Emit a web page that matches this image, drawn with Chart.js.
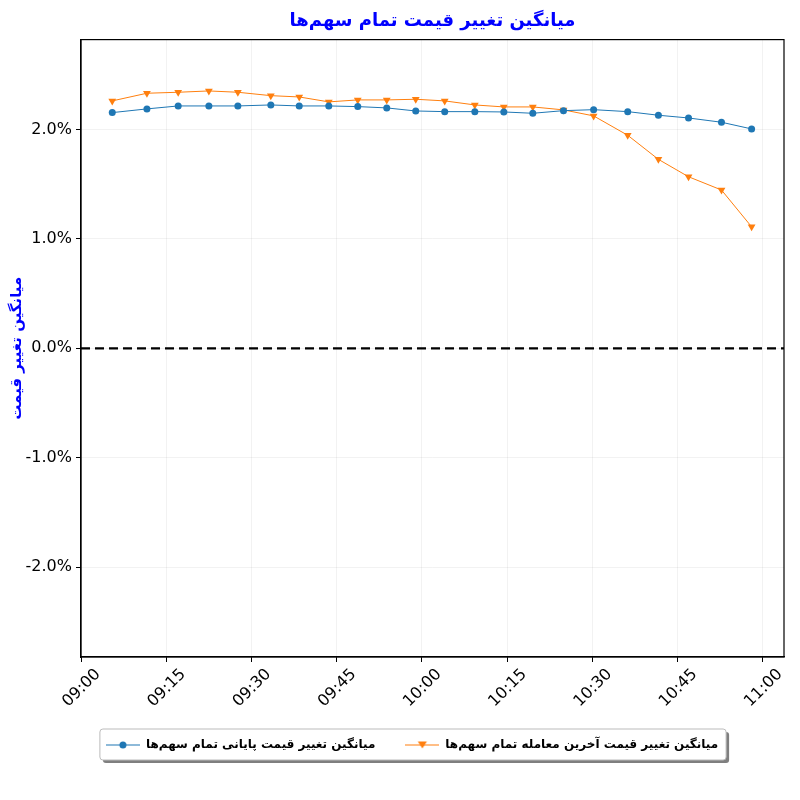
<!DOCTYPE html>
<html><head><meta charset="utf-8">
<script src="https://cdn.jsdelivr.net/npm/chart.js@4.4.1/dist/chart.umd.min.js"></script>
<style>html,body{margin:0;padding:0;background:#fff}#wrap{width:800px;height:800px}</style>
</head><body><div id="wrap"><canvas id="c" width="800" height="800"></canvas></div>
<script>
const titleText = 'میانگین تغییر قیمت تمام سهم‌ها';
const yAxisTitle = 'میانگین تغییر قیمت';
const seriesNames = ['میانگین تغییر قیمت پایانی تمام سهم‌ها', 'میانگین تغییر قیمت آخرین معامله تمام سهم‌ها'];
// minutes after 09:00
const minutes = [5.5, 11.6, 17.1, 22.5, 27.6, 33.4, 38.4, 43.6, 48.7, 53.8, 58.9, 64.0, 69.3, 74.4, 79.5, 84.9, 90.2, 96.2, 101.6, 106.9, 112.7, 118.0];
const closeChange = [2.153, 2.187, 2.214, 2.214, 2.214, 2.223, 2.214, 2.214, 2.208, 2.196, 2.168, 2.162, 2.162, 2.159, 2.147, 2.171, 2.180, 2.162, 2.129, 2.104, 2.065, 2.004];
const lastChange = [2.260, 2.330, 2.339, 2.351, 2.339, 2.308, 2.296, 2.251, 2.269, 2.269, 2.275, 2.260, 2.223, 2.205, 2.205, 2.178, 2.123, 1.946, 1.726, 1.567, 1.446, 1.110];
const xTickMinutes = [0, 15, 30, 45, 60, 75, 90, 105, 120];
const xTickLabels = ['09:00', '09:15', '09:30', '09:45', '10:00', '10:15', '10:30', '10:45', '11:00'];
const yTickValues = [-2, -1, 0, 1, 2];
const xMin = 0, xMax = 123.7;
const yLimit = 2.82;

const BLUE = '#1f77b4', ORANGE = '#ff7f0e';

function legendIcon(color, kind) {
  const c = document.createElement('canvas');
  c.width = 34; c.height = 12;
  const g = c.getContext('2d');
  g.strokeStyle = color; g.lineWidth = 1.2;
  g.beginPath(); g.moveTo(0, 6); g.lineTo(34, 6); g.stroke();
  g.fillStyle = color;
  g.beginPath();
  if (kind === 'circle') { g.arc(17, 6, 3.5, 0, Math.PI * 2); }
  else { g.moveTo(12.5, 2.5); g.lineTo(21.5, 2.5); g.lineTo(17, 9.5); g.closePath(); }
  g.fill();
  return c;
}
const icons = [legendIcon(BLUE, 'circle'), legendIcon(ORANGE, 'tri')];

const toPts = (arr) => arr.map((v, i) => ({x: minutes[i], y: v}));

const framePlugin = {
  id: 'frames',
  afterLayout(chart) {
    const lg = chart.legend;
    if (lg) { lg.left += 20; lg.right += 20; }
  },
  beforeDraw(chart) {
    const lg = chart.legend;
    if (!lg || !lg.legendHitBoxes || !lg.legendHitBoxes.length) return;
    const hb = lg.legendHitBoxes;
    const l = Math.min(...hb.map(h => h.left)) - 6;
    const r = Math.max(...hb.map(h => h.left + h.width)) + 8;
    const t = hb[0].top - 10;
    const b = hb[0].top + hb[0].height + 9;
    const ctx = chart.ctx;
    ctx.save();
    ctx.fillStyle = 'rgba(0,0,0,0.5)';
    ctx.beginPath(); ctx.roundRect(l + 3, t + 3, r - l, b - t, 3); ctx.fill();
    ctx.fillStyle = '#fff'; ctx.strokeStyle = '#bbb'; ctx.lineWidth = 1;
    ctx.beginPath(); ctx.roundRect(l, t, r - l, b - t, 3); ctx.fill(); ctx.stroke();
    ctx.restore();
  },
  afterDraw(chart) {
    const a = chart.chartArea, ctx = chart.ctx;
    ctx.save();
    ctx.strokeStyle = '#000'; ctx.lineWidth = 1.2;
    ctx.strokeRect(a.left, a.top, a.right - a.left, a.bottom - a.top);
    ctx.restore();
  }
};

new Chart(document.getElementById('c'), {
  type: 'line',
  data: {
    datasets: [
      { label: seriesNames[0], data: toPts(closeChange), borderColor: BLUE, backgroundColor: BLUE,
        borderWidth: 1, pointStyle: 'circle', pointRadius: 3.5, pointBorderWidth: 0, tension: 0 },
      { label: seriesNames[1], data: toPts(lastChange), borderColor: ORANGE, backgroundColor: ORANGE,
        borderWidth: 1, pointStyle: 'triangle', pointRotation: 180, pointRadius: 4.5, pointBorderWidth: 0, tension: 0 },
      { label: 'zero', data: [{x: xMin, y: 0}, {x: xMax, y: 0}], borderColor: '#000', borderWidth: 2.2,
        borderDash: [9, 5], pointRadius: 0 }
    ]
  },
  options: {
    responsive: false, animation: false, devicePixelRatio: 1,
    layout: { padding: { left: 0, right: 16, top: 0, bottom: 39 } },
    plugins: {
      title: { display: true, fullSize: false, text: titleText, color: '#0000ff',
        font: { family: 'DejaVu Sans', size: 18, weight: 'bold' }, padding: { top: 11, bottom: 7 } },
      legend: {
        position: 'bottom',
        labels: {
          usePointStyle: true, pointStyleWidth: 34, padding: 30, color: '#000',
          font: { family: 'DejaVu Sans', size: 12, weight: 'bold' },
          generateLabels: (chart) => [0, 1].map(i => ({
            text: seriesNames[i], pointStyle: icons[i], fillStyle: 'transparent', strokeStyle: 'transparent',
            lineWidth: 0, hidden: false, datasetIndex: i, fontColor: '#000'
          }))
        }
      },
      tooltip: { enabled: false }
    },
    scales: {
      x: {
        type: 'linear', min: xMin, max: xMax,
        afterBuildTicks: (s) => { s.ticks = xTickMinutes.map(v => ({value: v})); },
        afterFit: (s) => { s.height = 52; },
        ticks: { autoSkip: false, minRotation: 45, maxRotation: 45, color: '#000', padding: 3, labelOffset: 17,
          font: { family: 'DejaVu Sans', size: 16 },
          callback: (v) => xTickLabels[xTickMinutes.indexOf(v)] },
        grid: { color: 'rgba(0,0,0,0.05)', tickColor: '#000', tickLength: 5, drawTicks: true },
        border: { color: '#000', width: 1.2 }
      },
      y: {
        min: -yLimit, max: yLimit,
        afterBuildTicks: (s) => { s.ticks = yTickValues.map(v => ({value: v})); },
        afterFit: (s) => { s.width = 81; },
        ticks: { color: '#000', padding: 4, font: { family: 'DejaVu Sans', size: 16 },
          callback: (v) => v.toFixed(1) + '%' },
        grid: { color: 'rgba(0,0,0,0.05)', tickColor: '#000', tickLength: 5 },
        border: { color: '#000', width: 1.2 },
        title: { display: true, text: yAxisTitle, color: '#0000ff', padding: { top: 8, bottom: 0 },
          font: { family: 'DejaVu Sans', size: 15, weight: 'bold' } }
      }
    }
  },
  plugins: [framePlugin]
});
</script></body></html>
